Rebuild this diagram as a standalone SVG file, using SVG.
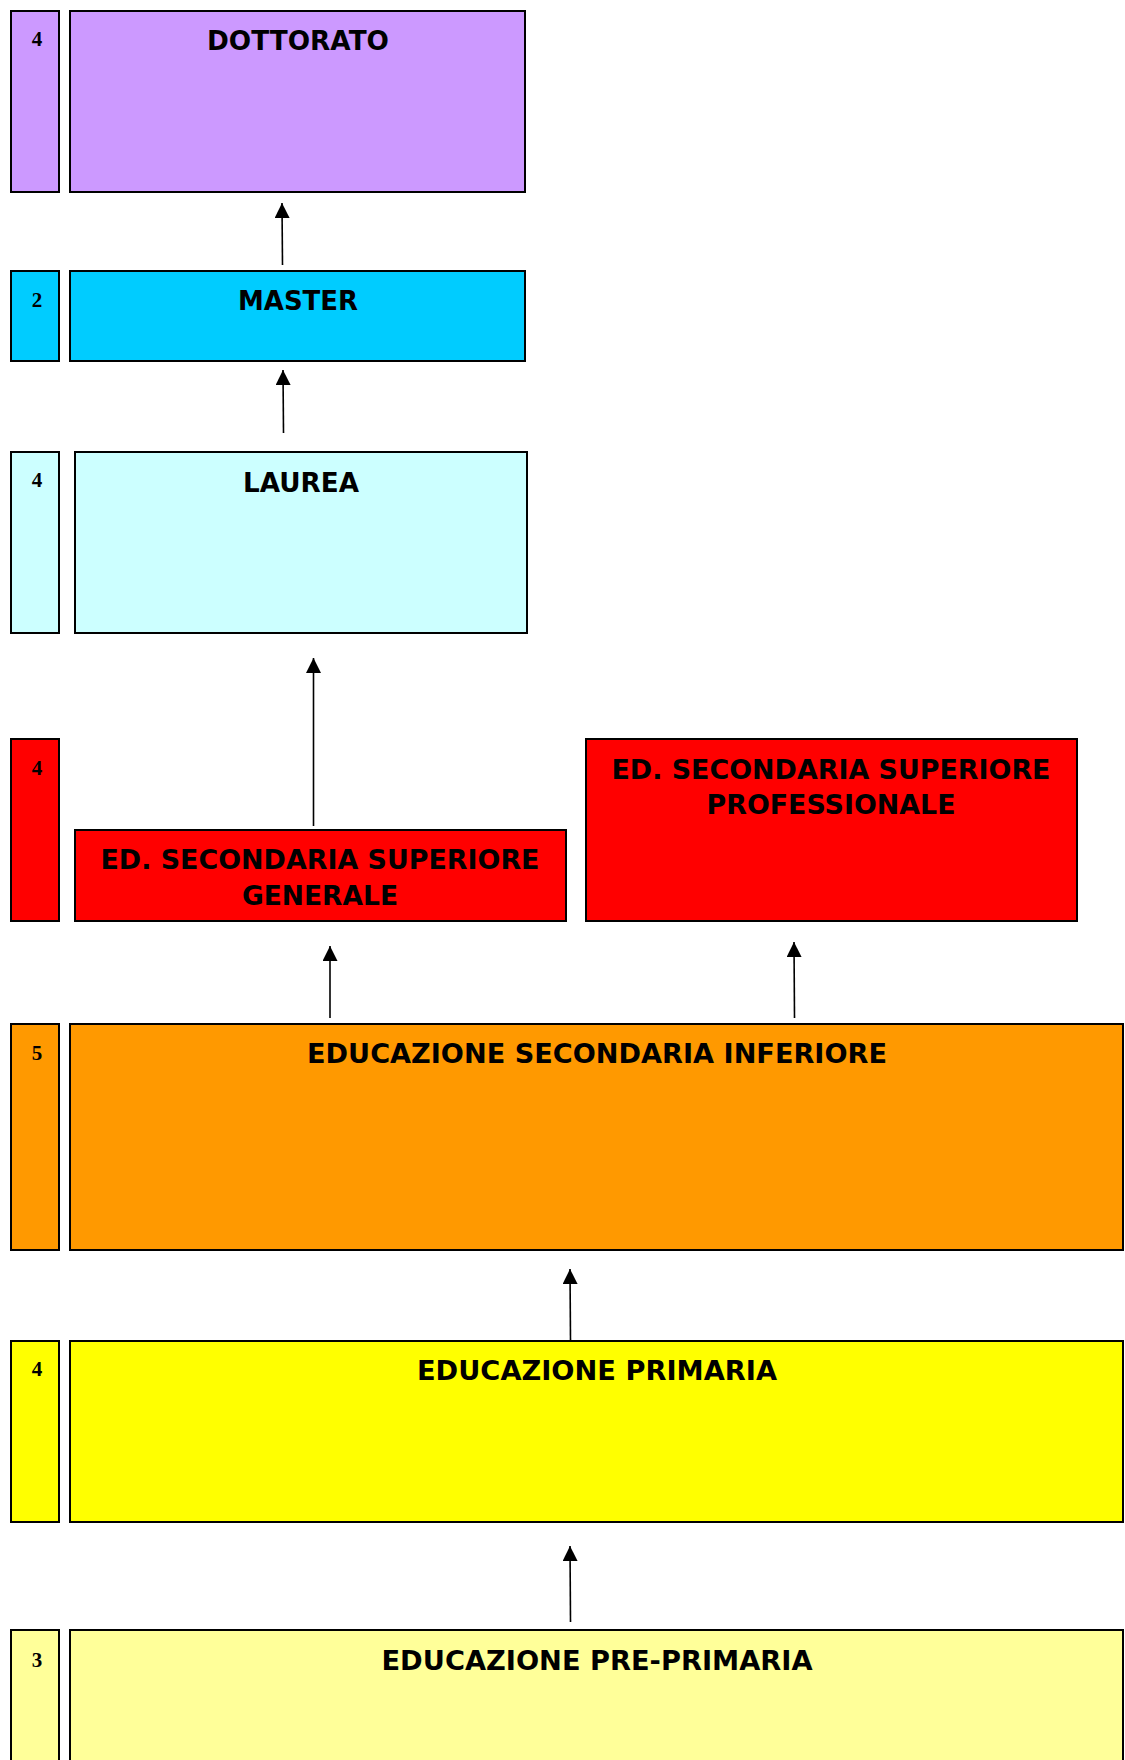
<svg xmlns="http://www.w3.org/2000/svg" width="1125" height="1760" viewBox="0 0 1125 1760">
<style>
rect{stroke:#000;stroke-width:2}
.t{font-family:"DejaVu Sans",Verdana,sans-serif;font-weight:bold;font-size:26px;text-anchor:middle;fill:#000}
.n{font-family:"Liberation Serif","Times New Roman",serif;font-weight:bold;font-size:21px;text-anchor:middle;fill:#000}
.c line{stroke:#000;stroke-width:1.6;marker-end:url(#ah)}
</style>
<defs>
<marker id="ah" markerUnits="userSpaceOnUse" markerWidth="15" markerHeight="15" refX="15" refY="7.5" orient="auto">
<path d="M0,0 L15,7.5 L0,15 z" fill="#000"/>
</marker>
</defs>
<rect width="1125" height="1760" fill="#fff" style="stroke:none"/>
<g id="dottorato">
<rect x="11" y="11" width="48" height="181" fill="#CC99FF"/>
<text class="n" x="37" y="46">4</text>
<rect x="70" y="11" width="455" height="181" fill="#CC99FF"/>
<text class="t" x="298" y="50" textLength="182" lengthAdjust="spacingAndGlyphs">DOTTORATO</text>
</g>
<g id="master">
<rect x="11" y="271" width="48" height="90" fill="#00CCFF"/>
<text class="n" x="37" y="307">2</text>
<rect x="70" y="271" width="455" height="90" fill="#00CCFF"/>
<text class="t" x="298" y="310" textLength="120" lengthAdjust="spacingAndGlyphs">MASTER</text>
</g>
<g id="laurea">
<rect x="11" y="452" width="48" height="181" fill="#CCFFFF"/>
<text class="n" x="37" y="487">4</text>
<rect x="75" y="452" width="452" height="181" fill="#CCFFFF"/>
<text class="t" x="301" y="492" textLength="116" lengthAdjust="spacingAndGlyphs">LAUREA</text>
</g>
<g id="secondaria-superiore-years">
<rect x="11" y="739" width="48" height="182" fill="#FF0000"/>
<text class="n" x="37" y="775">4</text>
</g>
<g id="secondaria-superiore-generale">
<rect x="75" y="830" width="491" height="91" fill="#FF0000"/>
<text class="t" x="320" y="869" textLength="439" lengthAdjust="spacingAndGlyphs">ED. SECONDARIA SUPERIORE</text>
<text class="t" x="320" y="905" textLength="156" lengthAdjust="spacingAndGlyphs">GENERALE</text>
</g>
<g id="secondaria-superiore-professionale">
<rect x="586" y="739" width="491" height="182" fill="#FF0000"/>
<text class="t" x="831" y="779" textLength="439" lengthAdjust="spacingAndGlyphs">ED. SECONDARIA SUPERIORE</text>
<text class="t" x="831" y="814" textLength="249" lengthAdjust="spacingAndGlyphs">PROFESSIONALE</text>
</g>
<g id="secondaria-inferiore">
<rect x="11" y="1024" width="48" height="226" fill="#FF9900"/>
<text class="n" x="37" y="1060">5</text>
<rect x="70" y="1024" width="1053" height="226" fill="#FF9900"/>
<text class="t" x="597" y="1063" textLength="580" lengthAdjust="spacingAndGlyphs">EDUCAZIONE SECONDARIA INFERIORE</text>
</g>
<g id="primaria">
<rect x="11" y="1341" width="48" height="181" fill="#FFFF00"/>
<text class="n" x="37" y="1376">4</text>
<rect x="70" y="1341" width="1053" height="181" fill="#FFFF00"/>
<text class="t" x="597" y="1380" textLength="360" lengthAdjust="spacingAndGlyphs">EDUCAZIONE PRIMARIA</text>
</g>
<g id="pre-primaria">
<rect x="11" y="1630" width="48" height="150" fill="#FFFF99"/>
<text class="n" x="37" y="1667">3</text>
<rect x="70" y="1630" width="1053" height="150" fill="#FFFF99"/>
<text class="t" x="597" y="1670" textLength="431" lengthAdjust="spacingAndGlyphs">EDUCAZIONE PRE-PRIMARIA</text>
</g>
<g id="connectors" class="c">
<line x1="282.5" y1="265" x2="282" y2="203"/>
<line x1="283.5" y1="433" x2="283" y2="370"/>
<line x1="313.5" y1="826" x2="313.5" y2="658"/>
<line x1="330" y1="1018" x2="330" y2="946"/>
<line x1="794.5" y1="1018" x2="794" y2="942"/>
<line x1="570.5" y1="1340" x2="570" y2="1269"/>
<line x1="570.5" y1="1622" x2="570" y2="1546"/>
</g>
</svg>
